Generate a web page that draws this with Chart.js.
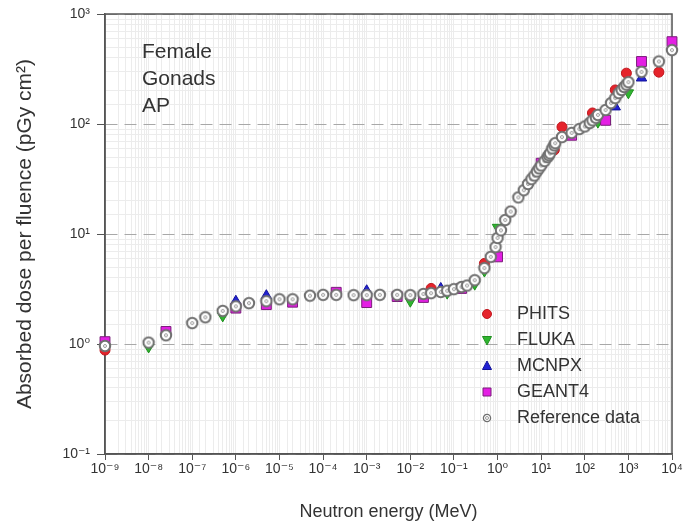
<!DOCTYPE html>
<html lang="en">
<head>
  <meta charset="UTF-8" />
  <title>Absorbed dose per fluence - Female Gonads AP</title>
  <script src="https://cdn.jsdelivr.net/npm/chart.js"></script>
  <style>
    html, body { margin: 0; padding: 0; background: #fff; }
  </style>
</head>
<body>
  <canvas id="doseChart" width="683" height="531"></canvas>

  <script>
    // reference data (ICRP energy grid), MeV -> pGy cm2
    const refEnergy = [1e-9, 1e-8, 2.5e-8, 1e-7, 2e-7, 5e-7, 1e-6, 2e-6, 5e-6, 1e-5, 2e-5, 5e-5,
      1e-4, 2e-4, 5e-4, 1e-3, 2e-3, 5e-3, 1e-2, 2e-2, 3e-2, 5e-2, 7e-2, 0.1, 0.15, 0.2, 0.3,
      0.5, 0.7, 0.9, 1, 1.2, 1.5, 2, 3, 4, 5, 6, 7, 8, 9, 10, 12, 14, 15, 16, 18, 20, 21,
      30, 50, 75, 100, 130, 150, 180, 200, 300, 400, 500, 600, 700, 800, 900, 1000, 2000, 5000, 10000];
    const refDose = [0.96, 1.03, 1.2, 1.55, 1.75, 2.0, 2.2, 2.35, 2.45, 2.55, 2.55, 2.75,
      2.8, 2.8, 2.78, 2.78, 2.8, 2.8, 2.78, 2.85, 2.9, 2.97, 3.05, 3.15, 3.3, 3.4, 3.8,
      4.9, 6.2, 7.6, 9.2, 10.8, 13.4, 16, 21.5, 25, 28.5, 31.5, 34, 37, 39.5, 42, 46, 50, 52, 54, 60, 64, 67,
      76, 83, 90, 95, 102, 108, 114, 121, 134, 155, 172, 191, 204, 217, 228, 240, 298, 370, 470];

    const phitsEnergy = [1e-9, 3e-2, 0.5, 2, 20, 30, 150, 500, 900, 5000];
    const phitsDose = [0.88, 3.2, 5.4, 16, 58, 94, 126, 204, 290, 296];

    const flukaEnergy = [1e-8, 5e-7, 1e-2, 7e-2, 0.3, 0.5, 1, 200, 1000];
    const flukaDose = [0.94, 1.8, 2.45, 2.9, 3.5, 4.6, 11.5, 104, 192];

    const mcnpxEnergy = [1e-6, 5e-6, 1e-3, 5e-2, 500, 2000];
    const mcnpxDose = [2.45, 2.75, 3.05, 3.2, 143, 262];

    const geantEnergy = [1e-9, 2.5e-8, 1e-6, 5e-6, 2e-5, 2e-4, 1e-3, 5e-3, 2e-2, 0.15, 1, 10, 50, 300, 2000, 10000];
    const geantDose = [1.05, 1.3, 2.12, 2.28, 2.4, 2.95, 2.38, 2.7, 2.65, 3.2, 6.2, 44, 79, 108, 370, 560];

    const xTickExp = [-9, -8, -7, -6, -5, -4, -3, -2, -1, 0, 1, 2, 3, 4];
    const yTickExp = [-1, 0, 1, 2, 3];
    const noteLines = ['Female', 'Gonads', 'AP'];

    const SUP = { '-': '\u207B', '0': '\u2070', '1': '\u00B9', '2': '\u00B2', '3': '\u00B3',
      '4': '\u2074', '5': '\u2075', '6': '\u2076', '7': '\u2077', '8': '\u2078', '9': '\u2079' };
    const expOf = v => Math.round(Math.log10(v));
    const isDecade = v => Math.abs(Math.log10(v) - expOf(v)) < 1e-6;
    const powLabel = e => '10' + String(e).split('').map(c => SUP[c]).join('');
    const pts = (xs, ys) => xs.map((x, i) => ({ x: x, y: ys[i] }));

    const FONT = "'Liberation Sans', Arial, 'DejaVu Sans', sans-serif";
    const TEXT = '#333';
    const AXIS = '#555';
    const MINOR = '#ececec';

    // open circle with a small dot, used for the reference points
    function ringMarker(size, r, w) {
      const c = document.createElement('canvas');
      c.width = size; c.height = size;
      const g = c.getContext('2d');
      const m = size / 2;
      g.beginPath(); g.arc(m, m, r, 0, Math.PI * 2);
      g.fillStyle = '#fff'; g.fill();
      g.lineWidth = w; g.strokeStyle = '#707070'; g.stroke();
      g.beginPath(); g.arc(m, m, 1.5, 0, Math.PI * 2);
      g.lineWidth = 1; g.strokeStyle = '#9a9a9a'; g.stroke();
      return c;
    }
    const refMarker = ringMarker(14, 5.2, 2);
    const refLegendMarker = ringMarker(12, 3.6, 1.3);

    const series = [
      { label: 'PHITS', data: pts(phitsEnergy, phitsDose), pointStyle: 'circle', pointRadius: 5,
        backgroundColor: '#e5232b', borderColor: '#c0181f', order: 4 },
      { label: 'FLUKA', data: pts(flukaEnergy, flukaDose), pointStyle: 'triangle', rotation: 180, pointRadius: 6,
        backgroundColor: '#2fb52f', borderColor: '#1f8f1f', order: 3 },
      { label: 'MCNPX', data: pts(mcnpxEnergy, mcnpxDose), pointStyle: 'triangle', pointRadius: 6,
        backgroundColor: '#2020d4', borderColor: '#12129a', order: 2 },
      { label: 'GEANT4', data: pts(geantEnergy, geantDose), pointStyle: 'rect', pointRadius: 7,
        backgroundColor: '#e41fe4', borderColor: '#7a1f7a', order: 1 },
      { label: 'Reference data', data: pts(refEnergy, refDose), pointStyle: refMarker, pointRadius: 6,
        backgroundColor: '#fff', borderColor: '#707070', order: 0 }
    ];
    series.forEach(s => { s.clip = false; });

    const notePlugin = {
      id: 'note',
      beforeDatasetsDraw(chart) {
        // frame under the markers
        const { ctx, chartArea: a } = chart;
        ctx.save();
        ctx.strokeStyle = AXIS;
        ctx.lineWidth = 1.5;
        ctx.strokeRect(a.left, a.top, a.right - a.left, a.bottom - a.top);
        ctx.restore();
      },
      afterDraw(chart) {
        const { ctx, chartArea: a } = chart;
        ctx.save();
        ctx.fillStyle = TEXT;
        ctx.font = '21px ' + FONT;
        ctx.textBaseline = 'alphabetic';
        noteLines.forEach((t, i) => ctx.fillText(t, a.left + 37, a.top + 44 + i * 27));

        // legend inside the plot, bottom right
        ctx.font = '18px ' + FONT;
        ctx.textBaseline = 'middle';
        chart.data.datasets.forEach((ds, i) => {
          const x = a.left + 382, y = a.top + 300 + i * 26;
          ctx.fillStyle = ds.backgroundColor;
          ctx.strokeStyle = ds.borderColor;
          ctx.lineWidth = 1;
          ctx.beginPath();
          if (ds.pointStyle === 'circle') {
            ctx.arc(x, y, 4.5, 0, Math.PI * 2);
            ctx.fill(); ctx.stroke();
          } else if (ds.pointStyle === 'triangle') {
            const s = ds.rotation === 180 ? -1 : 1;
            ctx.moveTo(x, y - 5 * s);
            ctx.lineTo(x + 4.5, y + 3.5 * s);
            ctx.lineTo(x - 4.5, y + 3.5 * s);
            ctx.closePath();
            ctx.fill(); ctx.stroke();
          } else if (ds.pointStyle === 'rect') {
            ctx.rect(x - 4, y - 4, 8, 8);
            ctx.fill(); ctx.stroke();
          } else {
            ctx.drawImage(refLegendMarker, x - 6, y - 6);
          }
          ctx.fillStyle = TEXT;
          ctx.fillText(ds.label, a.left + 412, y);
        });
        ctx.restore();
      }
    };

    const ctx = document.getElementById('doseChart').getContext('2d');
    new Chart(ctx, {
      type: 'scatter',
      data: { datasets: series },
      options: {
        responsive: false,
        animation: false,
        layout: { padding: { top: 14, right: 11, left: 0, bottom: 0 } },
        plugins: {
          legend: { display: false },
          tooltip: { enabled: false }
        },
        elements: { point: { borderWidth: 1 } },
        scales: {
          x: {
            type: 'logarithmic',
            min: 1e-9,
            max: 1e4,
            afterFit(s) { s.height = 77; s.paddingLeft = 0; s.paddingRight = 0; },
            ticks: {
              autoSkip: false, maxRotation: 0, minRotation: 0, padding: 1,
              color: TEXT, font: { family: FONT, size: 14 },
              callback: v => (isDecade(v) && xTickExp.includes(expOf(v))) ? powLabel(expOf(v)) : ''
            },
            grid: {
              color: MINOR,
              tickLength: 6,
              tickColor: c => (c.tick && isDecade(c.tick.value)) ? AXIS : 'rgba(0,0,0,0)'
            },
            border: { color: AXIS, width: 1.5 },
            title: {
              display: true, text: 'Neutron energy (MeV)', color: TEXT,
              font: { family: FONT, size: 18 }, padding: { top: 0, bottom: 8 }
            }
          },
          y: {
            type: 'logarithmic',
            min: 0.1,
            max: 1000,
            afterFit(s) { s.width = 105; s.paddingTop = 0; s.paddingBottom = 0; },
            ticks: {
              autoSkip: false, padding: 7,
              color: TEXT, font: { family: FONT, size: 14 },
              callback: v => (isDecade(v) && yTickExp.includes(expOf(v))) ? powLabel(expOf(v)) : ''
            },
            grid: {
              color: c => (c.tick && isDecade(c.tick.value)) ? '#a8a8a8' : MINOR,
              tickLength: 8,
              tickColor: c => (c.tick && isDecade(c.tick.value)) ? AXIS : 'rgba(0,0,0,0)'
            },
            border: {
              color: AXIS, width: 1.5,
              dash: c => (c.tick && isDecade(c.tick.value)) ? [12, 7] : []
            },
            title: {
              display: true, text: 'Absorbed dose per fluence (pGy cm\u00B2)', color: TEXT,
              font: { family: FONT, size: 21 }, padding: { top: 13, bottom: 0 }
            }
          }
        }
      },
      plugins: [notePlugin]
    });
  </script>
</body>
</html>
